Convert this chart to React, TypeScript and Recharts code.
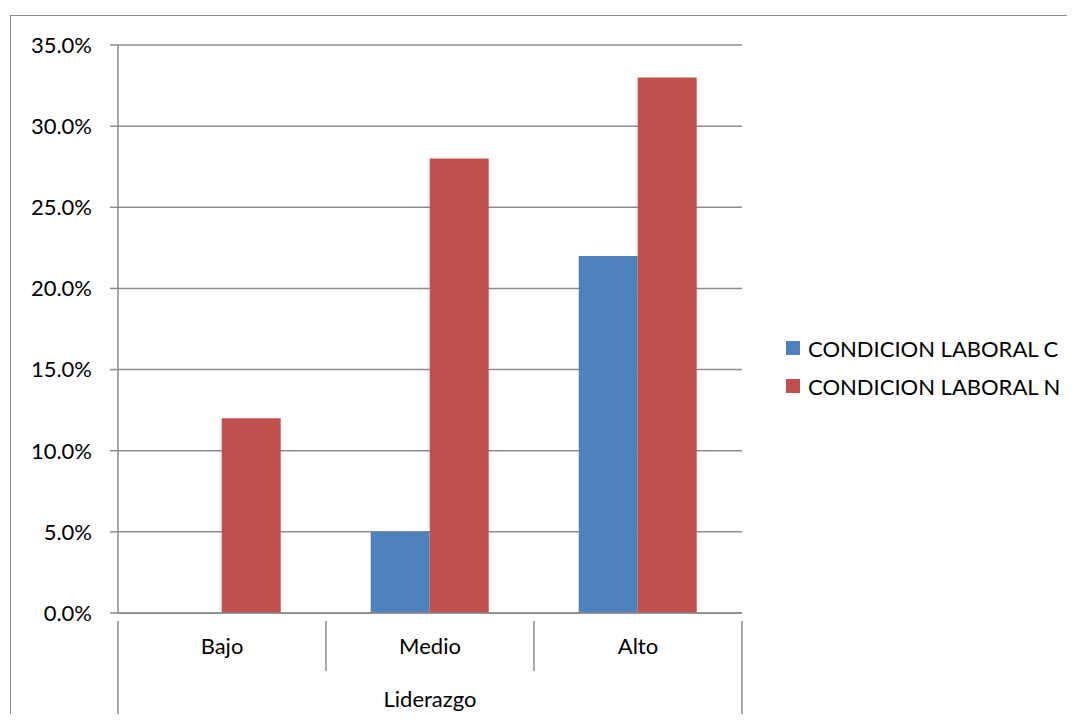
import React from "react";
import {
  BarChart,
  Bar,
  XAxis,
  YAxis,
  CartesianGrid,
  Legend,
} from "recharts";

const categories = ["Bajo", "Medio", "Alto"];
const condicionC = [0, 5, 22];
const condicionN = [12, 28, 33];
const yTicks = [0, 5, 10, 15, 20, 25, 30, 35];

const seriesNames = ["CONDICION LABORAL C", "CONDICION LABORAL N"];
const seriesColors = ["#4F81BD", "#C0504D"];

const data = categories.map((name, i) => ({
  name,
  c: condicionC[i],
  n: condicionN[i],
}));

const FONT = "Lato, 'Liberation Sans', sans-serif";
const FONT_SIZE = 22;
const AXIS_GREY = "#8c8c8c";

// Category label plus the separator lines of the two-level axis
function CategoryTick(props: any) {
  const { x, y, payload, index, width, visibleTicksCount } = props;
  const band = width / visibleTicksCount;
  const left = x - band / 2;
  const right = x + band / 2;
  const last = index === visibleTicksCount - 1;
  return (
    <g>
      <line
        x1={left}
        y1={y}
        x2={left}
        y2={index === 0 ? y + 103 : y + 50}
        stroke={AXIS_GREY}
        strokeWidth={1.5}
      />
      {last && (
        <line x1={right} y1={y} x2={right} y2={y + 103} stroke={AXIS_GREY} strokeWidth={1.5} />
      )}
      <text
        x={x}
        y={y + 27}
        textAnchor="middle"
        dominantBaseline="middle"
        fontFamily={FONT}
        fontSize={FONT_SIZE}
        fill="#000"
      >
        {payload.value}
      </text>
    </g>
  );
}

function LegendBox() {
  return (
    <div style={{ fontFamily: FONT, fontSize: FONT_SIZE, color: "#000" }}>
      {seriesNames.map((s, i) => (
        <div
          key={s}
          style={{ display: "flex", alignItems: "center", height: 38, whiteSpace: "nowrap" }}
        >
          <span
            style={{
              display: "inline-block",
              width: 14,
              height: 14,
              background: seriesColors[i],
              marginRight: 8,
            }}
          />
          {s}
        </div>
      ))}
    </div>
  );
}

export default function App() {
  return (
    <div style={{ position: "relative", width: 1075, height: 722, margin: -8, background: "#fff" }}>
      <div
        style={{
          position: "absolute",
          left: 10,
          top: 15,
          right: 0,
          bottom: 0,
          borderLeft: `1.5px solid ${AXIS_GREY}`,
          borderTop: `1.5px solid ${AXIS_GREY}`,
        }}
      />
      <BarChart
        width={1075}
        height={722}
        data={data}
        margin={{ top: 45, right: 333, left: 0, bottom: 0 }}
        barGap={0}
        barCategoryGap="21.5%"
        style={{ position: "absolute", left: 0, top: 0 }}
      >
        <CartesianGrid vertical={false} stroke={AXIS_GREY} strokeWidth={1.5} />
        <XAxis
          dataKey="name"
          height={109}
          axisLine={{ stroke: AXIS_GREY, strokeWidth: 1.5 }}
          tickLine={false}
          interval={0}
          tick={<CategoryTick />}
          label={{
            value: "Liderazgo",
            position: "insideBottom",
            offset: 15,
            fontFamily: FONT,
            fontSize: FONT_SIZE,
            fill: "#000",
          }}
        />
        <YAxis
          width={118}
          domain={[0, 35]}
          ticks={yTicks}
          tickFormatter={(v: number) => `${v.toFixed(1)}%`}
          axisLine={{ stroke: AXIS_GREY, strokeWidth: 1.5 }}
          tickLine={{ stroke: AXIS_GREY, strokeWidth: 1.5 }}
          tickSize={8}
          tickMargin={18}
          tick={{ fontFamily: FONT, fontSize: FONT_SIZE, fill: "#000" }}
        />
        <Legend
          layout="vertical"
          align="center"
          verticalAlign="middle"
          content={<LegendBox />}
          wrapperStyle={{ left: 786, top: 329, width: 300 }}
        />
        <Bar dataKey="c" name={seriesNames[0]} fill={seriesColors[0]} isAnimationActive={false} />
        <Bar dataKey="n" name={seriesNames[1]} fill={seriesColors[1]} isAnimationActive={false} />
      </BarChart>
    </div>
  );
}
